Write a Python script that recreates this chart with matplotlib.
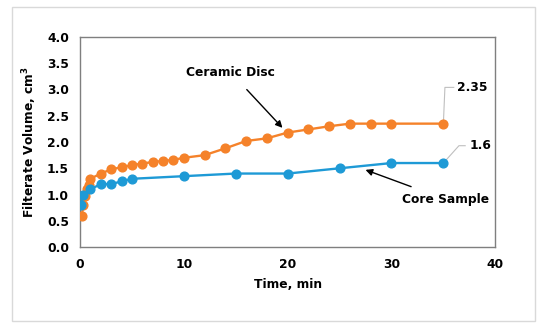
import matplotlib.pyplot as plt
from matplotlib.patches import Rectangle

# data
disc_t = [0.17, 0.33, 0.5, 0.67, 0.83, 1, 2, 3, 4, 5, 6, 7, 8, 9, 10, 12, 14, 16,
          18, 20, 22, 24, 26, 28, 30, 35]
disc_v = [0.6, 0.81, 0.97, 1.1, 1.19, 1.3, 1.4, 1.48, 1.52, 1.56, 1.59, 1.62, 1.64,
          1.66, 1.7, 1.75, 1.88, 2.02, 2.07, 2.18, 2.24, 2.3, 2.35, 2.35, 2.35, 2.35]

core_t = [0.08, 0.33, 1, 2, 3, 4, 5, 10, 15, 20, 25, 30, 35]
core_v = [0.8, 1.0, 1.1, 1.2, 1.2, 1.25, 1.3, 1.35, 1.4, 1.4, 1.5, 1.6, 1.6]

orange = '#F5822A'
blue = '#1E9AD6'
plt.rcParams['font.family'] = 'DejaVu Sans'
plt.rcParams['font.weight'] = 'bold'
fs = 8.8

fig = plt.figure(figsize=(5.5, 3.33), dpi=100)
ax = fig.add_axes([0.1455, 0.258, 0.755, 0.631])

# light border around the whole chart
fig.patches.append(Rectangle((12 / 550, 12 / 333), 523 / 550, 314 / 333,
                             transform=fig.transFigure, fill=False,
                             edgecolor='#D9D9D9', linewidth=1))

ax.plot(disc_t, disc_v, '-o', color=orange, lw=1.7, ms=6.3, zorder=3)
ax.plot(core_t, core_v, '-o', color=blue, lw=1.7, ms=6.3, zorder=3)

ax.set_xlim(0, 40)
ax.set_ylim(0, 4)
ax.set_xticks([0, 10, 20, 30, 40])
ax.set_yticks([i * 0.5 for i in range(9)])
ax.set_yticklabels([f'{i * 0.5:.1f}' for i in range(9)])
ax.tick_params(axis='y', length=0, labelsize=fs, pad=8)
ax.tick_params(axis='x', length=0, labelsize=fs, pad=8)
for lab in ax.get_xticklabels() + ax.get_yticklabels():
    lab.set_fontweight('bold')
for s in ax.spines.values():
    s.set_color('#7F7F7F')
    s.set_linewidth(1)

ax.set_xlabel('Time, min', fontsize=fs, fontweight='bold', labelpad=5)
ax.set_ylabel('Filterate Volume, cm$^\\mathbf{3}$', fontsize=fs, fontweight='bold', labelpad=6)

# series annotations
ax.annotate('Ceramic Disc', xy=(19.5, 2.27), xytext=(14.5, 3.33),
            fontsize=fs, fontweight='bold', ha='center', va='center',
            arrowprops=dict(arrowstyle='-|>', color='black', lw=1,
                            shrinkA=8, shrinkB=0, mutation_scale=10))
ax.annotate('Core Sample', xy=(27.5, 1.47), xytext=(35.2, 0.91),
            fontsize=fs, fontweight='bold', ha='center', va='center',
            arrowprops=dict(arrowstyle='-|>', color='black', lw=1,
                            shrinkA=7, shrinkB=0, mutation_scale=10))

# data labels with leader lines
ax.plot([35, 35.15, 36.0], [disc_v[-1], 3.04, 3.04], color='#BFBFBF', lw=0.8, zorder=2)
ax.text(36.3, 3.04, f'{disc_v[-1]:.2f}', fontsize=fs, fontweight='bold', va='center')
ax.plot([35, 36.5, 37.1], [core_v[-1], 1.93, 1.93], color='#BFBFBF', lw=0.8, zorder=2)
ax.text(37.5, 1.93, f'{core_v[-1]:g}', fontsize=fs, fontweight='bold', va='center')

fig.savefig('out.png', dpi=100)
